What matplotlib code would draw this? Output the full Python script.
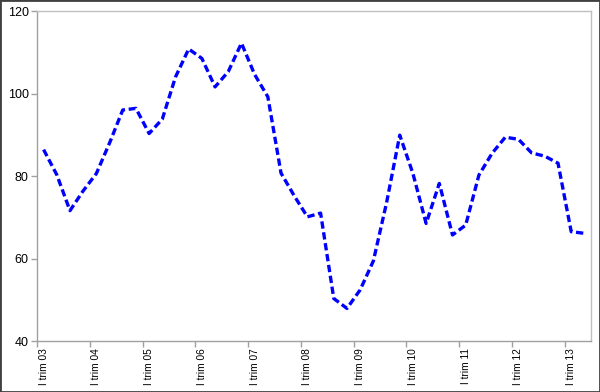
import numpy as np
import matplotlib.pyplot as plt
from matplotlib.patches import Rectangle

# valori trimestrali, I trim 03 -> II trim 13
valori = [86.4, 80.3, 71.6, 76.4, 80.6, 88.0, 96.0, 96.4,
          90.3, 93.8, 104.0, 110.8, 108.5, 101.6, 105.3, 112.2,
          104.6, 99.2, 80.7, 75.2, 70.1, 71.0, 50.3, 47.9,
          52.4, 59.4, 73.5, 89.9, 80.6, 68.5, 78.2, 65.7,
          68.1, 80.2, 85.5, 89.4, 88.9, 85.6, 84.8, 83.1,
          66.5, 66.1]
etichette = ["I trim 03", "I trim 04", "I trim 05", "I trim 06", "I trim 07", "I trim 08",
             "I trim 09", "I trim 10", "I trim 11", "I trim 12", "I trim 13"]

plt.rcParams['font.family'] = ['Liberation Sans', 'DejaVu Sans']

fig = plt.figure(figsize=(6, 3.92), dpi=100)
ax = fig.add_axes([37/600, 1-341/392, (591-37)/600, (341-11)/392])

x = np.arange(len(valori))
ax.plot(x, valori, color='#0000ff', lw=2.4, linestyle=(0, (2.2, 1.1)), dash_capstyle='butt')

ax.set_xlim(-0.5, len(valori)-0.5)
ax.set_ylim(40, 120)
ax.set_yticks(np.arange(40, 121, 20))

# tacche tra le categorie, etichette al centro
ax.set_xticks(np.arange(-0.5, len(valori), 4))
ax.set_xticklabels([])
ax.set_xticks(np.arange(0, len(valori), 4), etichette, minor=True)
ax.tick_params(axis='x', which='minor', length=0, labelrotation=90, labelsize=7.3, pad=5)
ax.tick_params(axis='x', which='major', length=4, color='#a0a0a0', width=1)
ax.tick_params(axis='y', length=4, color='#a0a0a0', width=1, labelsize=9, pad=2)

for s in ax.spines.values():
    s.set_color('#c0c0c0')
    s.set_linewidth(1)
ax.spines['left'].set_color('#a0a0a0')
ax.spines['bottom'].set_color('#a0a0a0')

# bordo del grafico
fig.patches.append(Rectangle((0, 0), 1, 1, transform=fig.transFigure, fill=False,
                             edgecolor='#404040', lw=2))

fig.savefig('out.png', dpi=100)
